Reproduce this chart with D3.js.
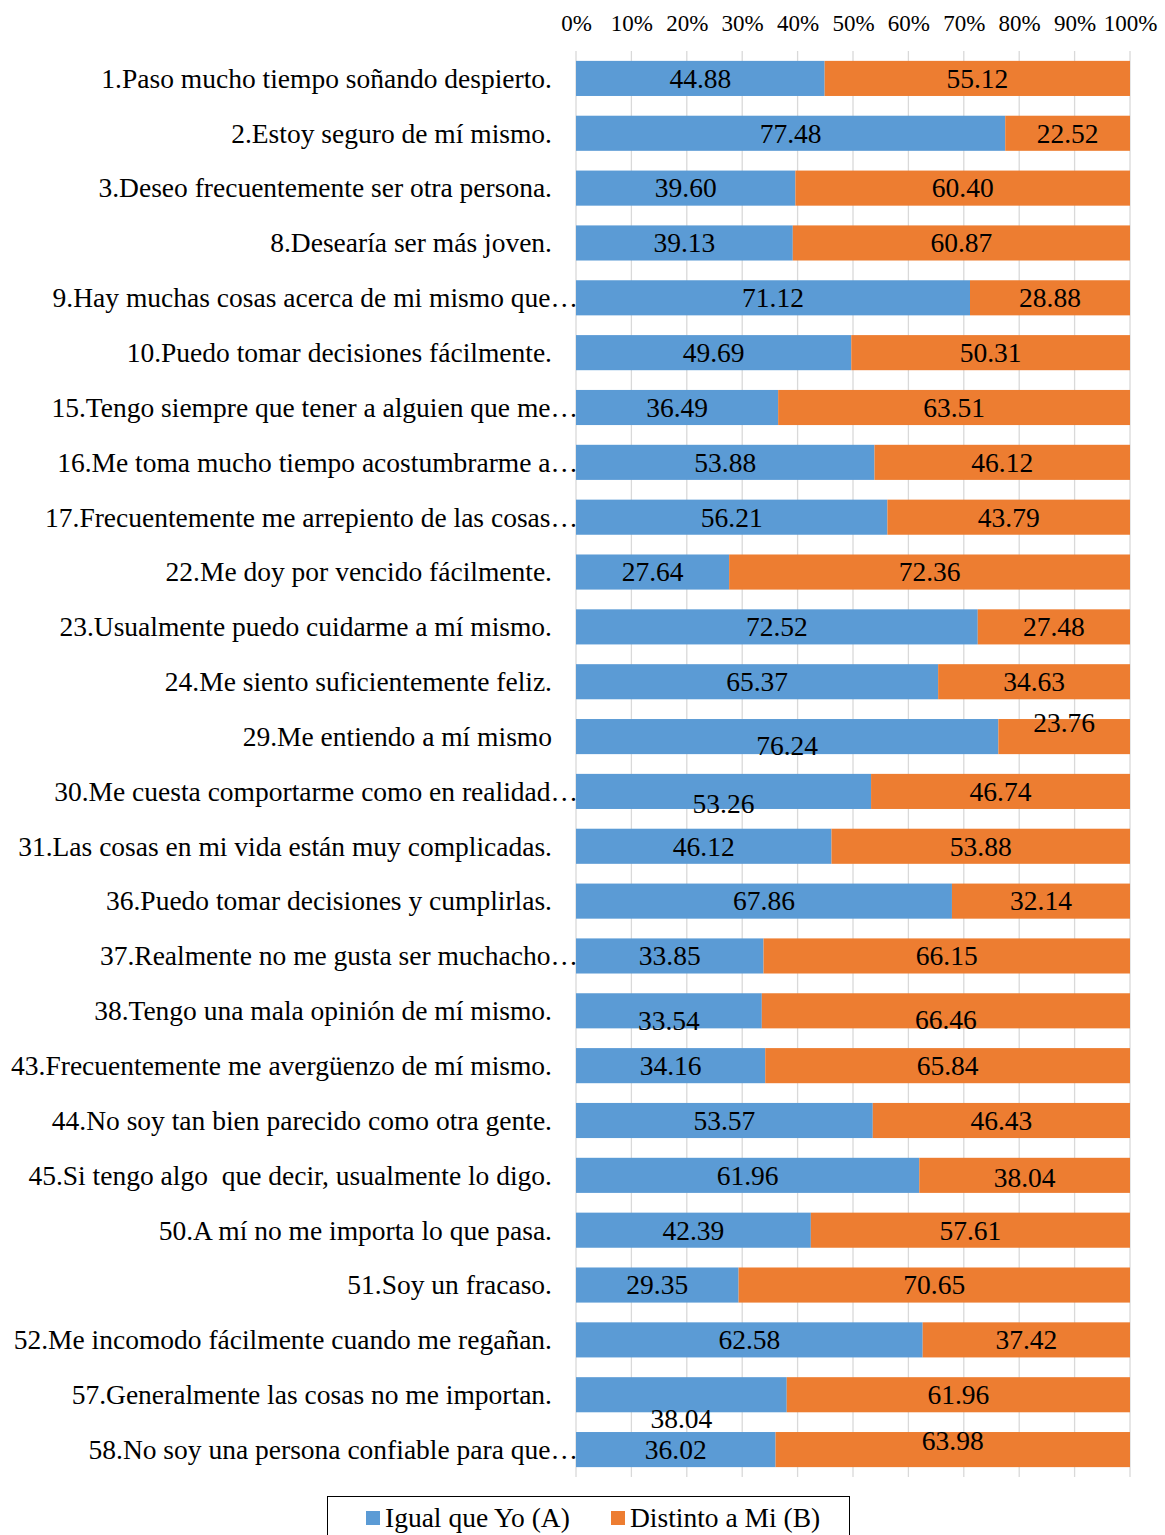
<!DOCTYPE html>
<html><head><meta charset="utf-8">
<script src="https://cdn.jsdelivr.net/npm/d3@7"></script>
<style>body{margin:0;background:#fff}svg{display:block}</style>
</head><body><div id="chart"></div>
<script>
const categories = [
"1.Paso mucho tiempo soñando despierto.",
"2.Estoy seguro de mí mismo.",
"3.Deseo frecuentemente ser otra persona.",
"8.Desearía ser más joven.",
"9.Hay muchas cosas acerca de mi mismo que…",
"10.Puedo tomar decisiones fácilmente.",
"15.Tengo siempre que tener a alguien que me…",
"16.Me toma mucho tiempo acostumbrarme a…",
"17.Frecuentemente me arrepiento de las cosas…",
"22.Me doy por vencido fácilmente.",
"23.Usualmente puedo cuidarme a mí mismo.",
"24.Me siento suficientemente feliz.",
"29.Me entiendo a mí mismo",
"30.Me cuesta comportarme como en realidad…",
"31.Las cosas en mi vida están muy complicadas.",
"36.Puedo tomar decisiones y cumplirlas.",
"37.Realmente no me gusta ser muchacho…",
"38.Tengo una mala opinión de mí mismo.",
"43.Frecuentemente me avergüenzo de mí mismo.",
"44.No soy tan bien parecido como otra gente.",
"45.Si tengo algo\u00a0 que decir, usualmente lo digo.",
"50.A mí no me importa lo que pasa.",
"51.Soy un fracaso.",
"52.Me incomodo fácilmente cuando me regañan.",
"57.Generalmente las cosas no me importan.",
"58.No soy una persona confiable para que…"
];
const igualQueYo = [44.88,77.48,39.60,39.13,71.12,49.69,36.49,53.88,56.21,27.64,72.52,65.37,76.24,53.26,46.12,67.86,33.85,33.54,34.16,53.57,61.96,42.39,29.35,62.58,38.04,36.02];
const distintoAMi = [55.12,22.52,60.40,60.87,28.88,50.31,63.51,46.12,43.79,72.36,27.48,34.63,23.76,46.74,53.88,32.14,66.15,66.46,65.84,46.43,38.04,57.61,70.65,37.42,61.96,63.98];
const seriesNames = ["Igual que Yo (A)", "Distinto a Mi (B)"];
const tickLabels = ["0%","10%","20%","30%","40%","50%","60%","70%","80%","90%","100%"];

// label nudges (vertical offsets seen in the original, px)
const nudgeA = {12:9, 13:12, 17:10, 24:24};
const nudgeB = {12:-14, 17:9, 20:2, 25:-9};

const W = 1165, H = 1535;
const colors = ["#5B9BD5", "#ED7D31"];
const font = "'Liberation Serif','Times New Roman',serif";

const svg = d3.select("#chart").append("svg").attr("width", W).attr("height", H)
  .style("font-family", font);

const x = d3.scaleLinear().domain([0, 100]).range([576, 1130]);
const y = d3.scaleBand().domain(categories).range([51, 1477]).paddingInner(0.36).paddingOuter(0.18);

// gridlines
svg.append("g").selectAll("line").data(d3.range(0, 101, 10)).join("line")
  .attr("x1", d => x(d)).attr("x2", d => x(d))
  .attr("y1", 51).attr("y2", 1477)
  .attr("stroke", "#d9d9d9").attr("stroke-width", 1.3);

// top axis labels
const axis = d3.axisTop(x).tickValues(d3.range(0, 101, 10)).tickFormat((d, i) => tickLabels[i]).tickSize(0).tickPadding(0);
const ag = svg.append("g").attr("transform", "translate(0,31)").call(axis);
ag.select(".domain").remove();
ag.selectAll("text").attr("font-size", 23).attr("font-family", font).attr("fill", "#000");

const data = categories.map((c, i) => ({c, i, a: igualQueYo[i], b: distintoAMi[i]}));

// bars
const g = svg.append("g");
g.selectAll("rect.a").data(data).join("rect").attr("class", "a")
  .attr("x", x(0)).attr("y", d => y(d.c)).attr("height", y.bandwidth())
  .attr("width", d => x(d.a) - x(0)).attr("fill", colors[0]);
g.selectAll("rect.b").data(data).join("rect").attr("class", "b")
  .attr("x", d => x(d.a)).attr("y", d => y(d.c)).attr("height", y.bandwidth())
  .attr("width", d => x(d.a + d.b) - x(d.a)).attr("fill", colors[1]);

// value labels
const lab = svg.append("g").attr("font-size", 27.5).attr("text-anchor", "middle").attr("fill", "#000");
lab.selectAll("text.a").data(data).join("text").attr("class", "a")
  .attr("x", d => x(d.a / 2))
  .attr("y", d => y(d.c) + y.bandwidth() / 2 + (nudgeA[d.i] || 0))
  .attr("dy", "0.34em").text(d => d.a.toFixed(2));
lab.selectAll("text.b").data(data).join("text").attr("class", "b")
  .attr("x", d => x(d.a + d.b / 2))
  .attr("y", d => y(d.c) + y.bandwidth() / 2 + (nudgeB[d.i] || 0))
  .attr("dy", "0.34em").text(d => d.b.toFixed(2));

// category labels
svg.append("g").attr("font-size", 27.5).attr("text-anchor", "end").attr("fill", "#000")
  .selectAll("text").data(data).join("text")
  .attr("x", d => d.c.endsWith("…") ? 578 : 552)
  .attr("y", d => y(d.c) + y.bandwidth() / 2)
  .attr("dy", "0.34em").text(d => d.c);

// legend
const lg = svg.append("g");
lg.append("rect").attr("x", 327.5).attr("y", 1496.5).attr("width", 522).attr("height", 45)
  .attr("fill", "none").attr("stroke", "#000").attr("stroke-width", 1);
const items = [{n: seriesNames[0], x: 366}, {n: seriesNames[1], x: 611}];
items.forEach((it, i) => {
  lg.append("rect").attr("x", it.x).attr("y", 1511).attr("width", 14).attr("height", 14).attr("fill", colors[i]);
  lg.append("text").attr("x", it.x + 19).attr("y", 1518).attr("dy", "0.34em")
    .attr("font-size", 27.5).attr("fill", "#000").text(it.n);
});
</script></body></html>
